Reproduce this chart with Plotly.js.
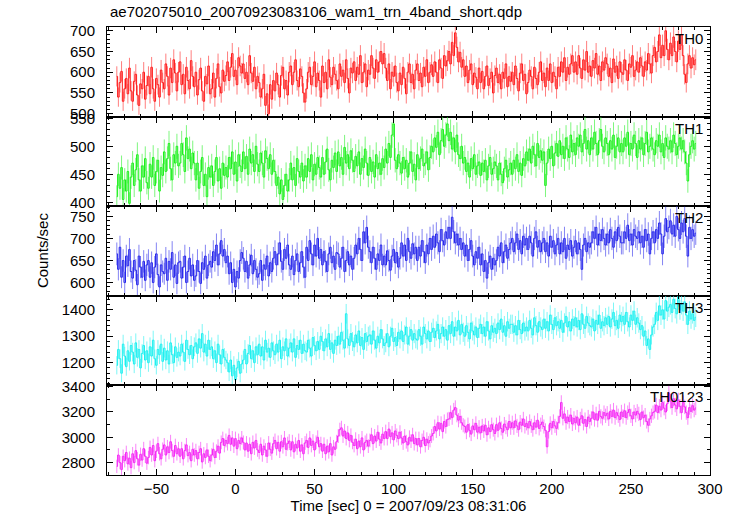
<!DOCTYPE html>
<html><head><meta charset="utf-8">
<script src="https://cdn.plot.ly/plotly-3.0.1.min.js"></script>
<style>html,body{margin:0;padding:0;background:#fff}#chart{width:737px;height:516px}</style>
</head><body><div id="chart"></div>
<script>
const time = [
-75,-74,-73,-72,-71,-70,-69,-68,-67,-66,-65,-64,-63,-62,-61,-60,-59,-58,-57,-56,
-55,-54,-53,-52,-51,-50,-49,-48,-47,-46,-45,-44,-43,-42,-41,-40,-39,-38,-37,-36,
-35,-34,-33,-32,-31,-30,-29,-28,-27,-26,-25,-24,-23,-22,-21,-20,-19,-18,-17,-16,
-15,-14,-13,-12,-11,-10,-9,-8,-7,-6,-5,-4,-3,-2,-1,0,1,2,3,4,
5,6,7,8,9,10,11,12,13,14,15,16,17,18,19,20,21,22,23,24,
25,26,27,28,29,30,31,32,33,34,35,36,37,38,39,40,41,42,43,44,
45,46,47,48,49,50,51,52,53,54,55,56,57,58,59,60,61,62,63,64,
65,66,67,68,69,70,71,72,73,74,75,76,77,78,79,80,81,82,83,84,
85,86,87,88,89,90,91,92,93,94,95,96,97,98,99,100,101,102,103,104,
105,106,107,108,109,110,111,112,113,114,115,116,117,118,119,120,121,122,123,124,
125,126,127,128,129,130,131,132,133,134,135,136,137,138,139,140,141,142,143,144,
145,146,147,148,149,150,151,152,153,154,155,156,157,158,159,160,161,162,163,164,
165,166,167,168,169,170,171,172,173,174,175,176,177,178,179,180,181,182,183,184,
185,186,187,188,189,190,191,192,193,194,195,196,197,198,199,200,201,202,203,204,
205,206,207,208,209,210,211,212,213,214,215,216,217,218,219,220,221,222,223,224,
225,226,227,228,229,230,231,232,233,234,235,236,237,238,239,240,241,242,243,244,
245,246,247,248,249,250,251,252,253,254,255,256,257,258,259,260,261,262,263,264,
265,266,267,268,269,270,271,272,273,274,275,276,277,278,279,280,281,282,283,284,
285,286,287,288,289,290,291];

const TH0 = [
590,540,575,602,530,560,585,548,610,555, 530,578,595,545,520,572,560,600,535,568,
590,548,612,560,530,585,570,540,605,575, 560,620,590,545,610,575,630,598,555,600,
625,570,595,548,612,580,560,628,590,565, 600,545,582,610,555,530,590,572,615,548,
560,598,540,585,620,565,550,605,578,592, 625,580,612,645,590,605,570,635,615,598,
620,585,600,570,640,598,578,612,560,590, 575,540,560,595,520,548,500,570,535,580,
555,598,570,540,592,612,560,580,545,600, 615,570,600,630,580,565,608,590,550,528,
560,600,612,570,590,625,565,598,580,540, 615,575,600,560,630,588,570,612,595,580,
560,620,590,605,575,630,585,550,610,598, 625,580,612,595,640,575,600,620,565,605,
595,640,610,585,630,600,625,650,620,645, 610,580,620,560,600,590,615,575,555,598,
570,612,585,548,600,620,575,595,560,605, 620,580,598,565,612,590,630,575,600,618,
590,625,600,575,630,610,585,640,615,628, 650,620,672,640,695,660,625,648,612,630,
590,615,575,605,620,570,598,588,560,610, 575,602,560,590,615,568,585,600,550,592,
610,575,595,560,600,585,620,565,590,578, 600,570,615,585,555,598,620,580,595,548,
575,605,590,560,612,585,570,600,625,580, 598,565,610,580,620,575,600,590,560,612,
590,625,600,635,580,612,595,620,640,600, 625,595,640,610,585,630,605,650,600,615,
590,628,610,645,595,615,580,625,605,635, 620,590,610,575,632,600,615,585,625,600,
595,630,605,580,620,612,640,590,605,625, 600,635,615,590,625,605,645,620,598,640,
660,625,650,690,635,665,640,700,655,630, 670,640,685,650,625,675,655,690,640,595,
575,620,640,610,635,618,630];

const TH1 = [
410,450,425,462,405,440,420,455,398,445, 470,430,458,485,440,420,465,445,478,435,
425,468,445,480,430,455,475,420,462,448, 490,455,478,505,460,440,485,470,500,465,
470,505,485,455,515,478,495,460,488,470, 440,470,425,455,480,430,450,410,462,445,
465,430,455,480,438,460,425,470,448,462, 445,480,460,490,450,472,438,485,465,455,
490,460,482,450,495,470,485,455,500,468, 455,488,470,445,492,478,460,485,450,475,
455,430,445,415,440,405,430,450,420,440, 470,440,462,430,478,455,445,470,438,465,
445,478,455,485,440,468,450,480,462,445, 480,450,472,495,458,440,475,462,488,455,
490,465,480,450,498,470,485,460,492,475, 455,482,465,490,450,478,462,495,470,448,
480,455,472,445,485,460,470,450,478,462, 495,470,505,480,520,540,475,460,485,470,
452,480,460,475,445,470,490,455,468,440, 485,460,478,495,465,470,490,458,480,500,
490,515,498,525,485,510,530,500,520,540, 510,525,495,515,490,520,485,478,500,470,
480,455,470,445,478,460,485,450,465,472, 448,470,455,475,440,465,480,450,460,472,
465,440,470,450,435,460,475,445,458,470, 450,475,460,485,455,470,448,478,465,490,
475,495,470,500,485,465,505,480,492,475, 490,430,470,495,478,500,465,488,505,482,
510,485,500,478,515,495,480,520,490,505, 485,515,500,520,490,505,530,495,510,485,
515,495,525,505,485,510,530,500,490,515, 505,485,510,495,520,480,500,515,490,505,
490,515,500,525,485,505,495,520,505,480, 510,495,515,485,505,525,490,500,515,495,
485,510,500,520,490,505,480,515,500,495, 510,490,520,505,485,500,515,495,510,490,
470,438,485,500,510,495,505];

const TH2 = [
665,630,680,612,650,600,660,638,675,625, 610,650,628,595,660,635,612,648,605,640,
650,612,645,600,635,665,618,590,640,625, 620,655,605,648,630,668,612,640,598,645,
648,610,635,660,600,625,655,615,640,605, 615,650,625,598,645,630,660,610,640,648,
635,670,650,685,640,665,695,660,675,645, 660,620,645,600,630,590,625,610,650,668,
655,625,648,610,640,662,620,650,630,612, 620,650,605,640,630,660,615,645,625,655,
670,640,665,690,648,630,675,655,685,640, 630,660,618,650,665,625,645,670,635,612,
680,650,695,665,640,685,660,700,655,675, 640,670,648,625,665,680,645,660,630,668,
665,635,655,680,625,650,670,640,660,630, 655,685,665,700,675,650,715,690,725,680,
670,645,680,655,630,665,650,685,640,660, 640,672,650,628,660,675,645,668,635,655,
690,660,685,650,700,670,655,688,665,680, 650,680,660,695,670,645,685,665,700,675,
705,680,710,690,670,720,695,685,715,700, 725,700,748,715,690,710,685,700,675,690,
660,685,650,675,695,660,640,670,655,680, 640,665,625,650,610,645,660,630,655,640,
650,680,660,690,645,670,685,655,675,690, 700,670,690,710,675,695,665,705,685,700,
675,705,690,660,700,715,680,695,670,690, 700,670,690,660,705,680,695,665,685,700,
665,690,670,700,655,685,675,695,660,680, 695,665,690,675,630,685,700,670,690,680,
690,715,700,725,685,710,695,720,700,685, 710,690,720,700,680,715,695,725,705,690,
690,715,700,730,695,710,685,720,705,700, 715,690,705,680,720,695,710,665,700,715,
690,720,700,735,710,665,705,745,715,725, 740,710,730,705,750,720,700,735,715,745,
705,660,725,700,720,705,712];

const TH3 = [
1190,1250,1215,1160,1270,1225,1185,1245,1205,1265, 1240,1195,1275,1220,1250,1180,1235,1265,1210,1245,
1200,1260,1225,1285,1215,1190,1250,1230,1270,1205, 1255,1210,1245,1195,1275,1230,1200,1260,1220,1240,
1225,1270,1240,1205,1285,1250,1230,1265,1215,1260, 1275,1235,1290,1255,1310,1240,1270,1225,1285,1250,
1260,1215,1245,1200,1270,1230,1195,1250,1220,1210, 1200,1165,1210,1150,1190,1135,1180,1205,1160,1195,
1210,1250,1195,1235,1265,1215,1245,1200,1260,1230, 1270,1225,1260,1210,1285,1240,1255,1220,1275,1245,
1230,1270,1240,1285,1215,1260,1245,1290,1225,1255, 1275,1240,1290,1220,1265,1250,1285,1235,1270,1245,
1240,1285,1255,1225,1295,1265,1245,1280,1250,1300, 1280,1245,1290,1260,1310,1250,1275,1235,1285,1265,
1300,1270,1315,1285,1255,1385,1290,1265,1310,1280, 1260,1305,1275,1320,1265,1295,1250,1310,1280,1300,
1305,1270,1320,1285,1255,1300,1275,1325,1290,1265, 1275,1310,1260,1300,1330,1280,1295,1265,1315,1290,
1320,1280,1305,1335,1270,1300,1325,1285,1310,1290, 1285,1325,1300,1270,1335,1310,1290,1320,1280,1315,
1330,1295,1320,1345,1290,1310,1335,1300,1325,1285, 1340,1310,1355,1300,1335,1320,1360,1305,1345,1315,
1300,1340,1315,1290,1350,1320,1305,1335,1295,1330, 1345,1310,1335,1300,1355,1320,1290,1340,1315,1330,
1310,1350,1325,1365,1315,1340,1300,1355,1330,1345, 1345,1315,1340,1305,1360,1325,1310,1350,1320,1335,
1320,1360,1330,1305,1370,1340,1315,1355,1335,1325, 1365,1330,1355,1320,1380,1345,1325,1370,1340,1355,
1330,1360,1315,1350,1375,1335,1355,1320,1365,1340, 1370,1335,1360,1325,1385,1345,1330,1375,1350,1340,
1335,1365,1320,1360,1345,1380,1330,1355,1340,1370, 1345,1375,1335,1365,1390,1340,1360,1330,1380,1355,
1375,1345,1390,1355,1335,1380,1360,1395,1345,1370, 1350,1325,1340,1300,1320,1265,1290,1250,1305,1335,
1345,1390,1360,1415,1380,1400,1365,1435,1395,1410, 1420,1390,1440,1405,1385,1450,1400,1420,1395,1430,
1380,1345,1395,1365,1385,1360,1372];

const TH0123 = [
2770,2860,2800,2745,2850,2815,2880,2790,2835,2760, 2870,2800,2895,2830,2780,2865,2820,2910,2850,2795,
2840,2920,2860,2935,2815,2890,2950,2870,2830,2905, 2940,2860,2925,2880,2965,2895,2850,2935,2870,2910,
2850,2910,2830,2895,2940,2855,2880,2815,2905,2860, 2895,2830,2880,2910,2805,2870,2840,2900,2850,2815,
2860,2905,2840,2890,2930,2875,2960,2990,2935,2975, 2950,3015,2945,2995,2930,2990,2910,2975,2950,2995,
2960,2900,2955,2890,2945,2870,2960,2915,2975,2900, 2880,2945,2860,2930,2900,2850,2955,2905,2875,2950,
2975,2910,2960,2890,2965,2925,2995,2905,2950,2970, 2900,2965,2885,2945,2915,2975,2890,2940,2870,2955,
2975,2920,2995,2935,2970,2900,2960,3000,2925,2950, 2890,2945,2870,2930,2885,2950,2860,2925,2905,2965,
3010,3060,3075,3010,3050,2990,3035,2975,3015,2960, 2935,2985,2910,2970,2925,2995,2900,2960,2975,2930,
2975,3020,2950,3010,2970,3040,2985,2955,3025,2990, 3045,2990,3065,3005,3035,2980,3050,3015,2990,3040,
2995,2955,3010,2965,2940,3000,2970,3020,2950,2990, 2940,2990,2925,2975,3000,2935,2985,2955,2975,3010,
3030,3085,3050,3115,3065,3110,3045,3125,3085,3140, 3145,3195,3155,3215,3235,3175,3135,3165,3115,3095,
3085,3040,3100,3055,3025,3090,3060,3110,3040,3080, 3035,3090,3050,3095,3020,3075,3045,3100,3060,3030,
3100,3055,3115,3070,3040,3105,3080,3060,3125,3075, 3115,3075,3130,3090,3060,3120,3095,3145,3085,3110,
3075,3125,3090,3060,3115,3080,3135,3070,3100,3120, 3085,3055,2925,3045,3110,3075,3125,3090,3070,3115,
3165,3275,3150,3185,3115,3160,3125,3175,3105,3150, 3115,3160,3095,3145,3170,3110,3140,3085,3160,3125,
3150,3200,3140,3185,3135,3205,3165,3150,3195,3170, 3190,3145,3205,3165,3215,3155,3195,3170,3140,3200,
3165,3210,3155,3195,3220,3170,3145,3200,3175,3205, 3185,3140,3200,3155,3175,3125,3095,3145,3170,3195,
3205,3255,3195,3245,3215,3275,3230,3200,3265,3350, 3285,3235,3305,3255,3225,3295,3245,3195,3275,3240,
3195,3155,3235,3205,3250,3215,3232];

const bandNames = ['TH0','TH1','TH2','TH3','TH0123'];
const bandValues = [TH0, TH1, TH2, TH3, TH0123];
const lineColors = ['rgb(255,25,25)','rgb(25,240,25)','rgb(35,35,235)','rgb(25,240,240)','rgb(245,35,245)'];
const errColors = ['rgba(255,40,40,0.6)','rgba(40,240,40,0.6)','rgba(50,50,235,0.6)','rgba(40,240,240,0.6)','rgba(245,50,245,0.6)'];
const yRanges = [[493,709],[393,553],[570,773],[1114,1453],[2702,3410]];
const yDticks = [50,50,50,100,200];
const yMinor = [10,10,10,20,100];
const xRange = [-81.2, 300];
const titleText = 'ae702075010_20070923083106_wam1_trn_4band_short.qdp';
const xTitle = 'Time [sec] 0 = 2007/09/23 08:31:06';
const yTitle = 'Counts/sec';

const FONT = 'Liberation Sans, Arial, Helvetica, sans-serif';
const traces = [];
const layout = {
  width: 737, height: 516,
  margin: {l: 107, r: 27, t: 27, b: 41},
  paper_bgcolor: '#fff', plot_bgcolor: '#fff',
  showlegend: false,
  font: {family: FONT, size: 15, color: '#000'},
  title: {text: titleText, font: {family: FONT, size: 15, color: '#000'},
          xref: 'paper', x: 0.005, xanchor: 'left', y: 1 - 12/516, yanchor: 'middle'},
  annotations: []
};
const n = bandNames.length;
for (let i = 0; i < n; i++) {
  const sfx = i === 0 ? '' : String(i + 1);
  traces.push({
    type: 'scatter', mode: 'lines',
    x: time, y: bandValues[i],
    xaxis: 'x' + sfx, yaxis: 'y' + sfx,
    line: {shape: 'hvh', width: 1, color: lineColors[i]},
    error_y: {type: 'sqrt', visible: true, color: errColors[i], thickness: 1, width: 0},
    hoverinfo: 'skip'
  });
  const d0 = (n - 1 - i) / n, d1 = (n - i) / n;
  layout['xaxis' + sfx] = {
    domain: [0, 1], anchor: 'y' + sfx, range: xRange,
    matches: i === 0 ? undefined : 'x',
    tick0: 0, dtick: 50, ticks: 'inside', ticklen: 6, tickwidth: 1, tickcolor: '#000',
    minor: {dtick: 10, ticks: 'inside', ticklen: 3, tickwidth: 1, tickcolor: '#000'},
    showline: true, linecolor: '#000', linewidth: 1, mirror: 'allticks',
    showgrid: false, zeroline: false,
    showticklabels: i === n - 1,
    tickfont: {family: FONT, size: 15, color: '#000'},
    title: i === n - 1 ? {text: xTitle, font: {family: FONT, size: 15, color: '#000'}, standoff: 4} : undefined
  };
  layout['yaxis' + sfx] = {
    domain: [d0, d1], anchor: 'x' + sfx, range: yRanges[i],
    tick0: 0, dtick: yDticks[i], ticks: 'inside', ticklen: 6, tickwidth: 1, tickcolor: '#000',
    minor: {dtick: yMinor[i], ticks: 'inside', ticklen: 3, tickwidth: 1, tickcolor: '#000'},
    showline: true, linecolor: '#000', linewidth: 1, mirror: 'allticks',
    showgrid: false, zeroline: false,
    ticklabelstandoff: 8,
    tickfont: {family: FONT, size: 15, color: '#000'}
  };
  layout.annotations.push({
    text: bandNames[i], xref: 'paper', yref: 'paper', x: 1, y: d1,
    xanchor: 'right', yanchor: 'top', xshift: -5, yshift: -1, showarrow: false,
    font: {family: FONT, size: 15, color: '#000'}
  });
}
layout.annotations.push({
  text: yTitle, xref: 'paper', yref: 'paper', x: (42 - 107) / 603, y: 0.502,
  xanchor: 'center', yanchor: 'middle', textangle: -90, showarrow: false,
  font: {family: FONT, size: 15, color: '#000'}
});
Plotly.newPlot('chart', traces, layout, {staticPlot: true, displayModeBar: false});
</script>
</body></html>
